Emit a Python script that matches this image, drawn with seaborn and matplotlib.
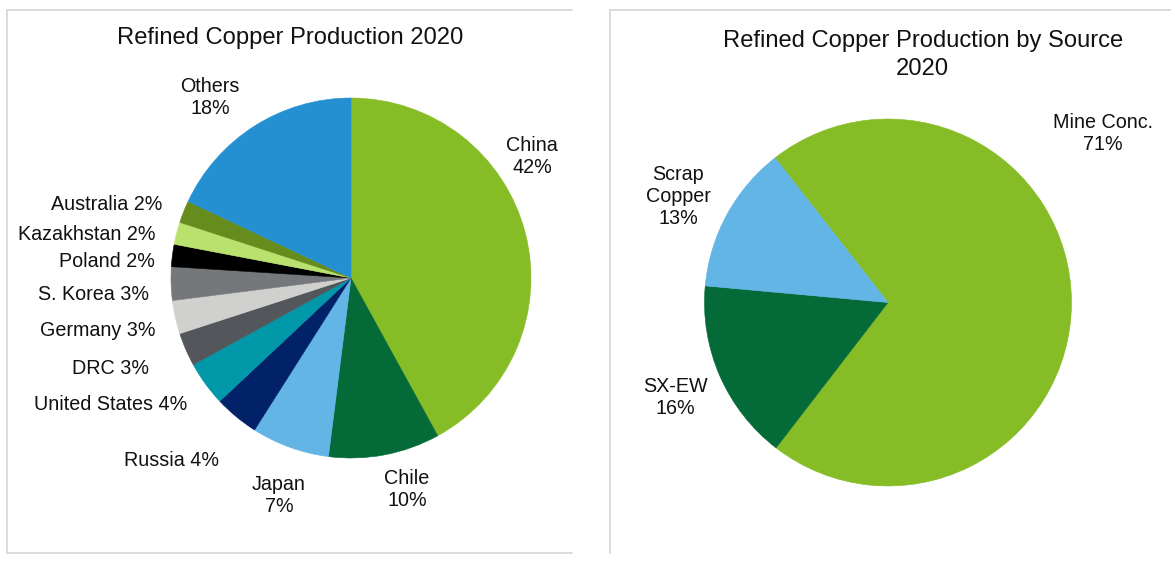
import matplotlib
matplotlib.use("Agg")
import matplotlib.pyplot as plt
from matplotlib.lines import Line2D
import seaborn as sns

# Refined copper production by country, 2020 (share of world total, %)
countries = ["China", "Chile", "Japan", "Russia", "United States", "DRC",
             "Germany", "S. Korea", "Poland", "Kazakhstan", "Australia", "Others"]
country_share = [42, 10, 7, 4, 4, 3, 3, 3, 2, 2, 2, 18]
country_colors = ["#86BC25", "#046A38", "#62B5E5", "#012169", "#0097A9", "#53565A",
                  "#D0D0CE", "#75787B", "#000000", "#B9E16E", "#668C1E", "#2490D2"]

# Refined copper production by source, 2020 (%)
sources = ["Mine Conc.", "SX-EW", "Scrap\nCopper"]
source_share = [71, 16, 13]
source_colors = ["#86BC25", "#046A38", "#62B5E5"]

W, H = 1175, 568
sns.set_theme(style="white")
plt.rcParams["font.family"] = ["Liberation Sans", "DejaVu Sans"]

fig = plt.figure(figsize=(W / 100, H / 100), dpi=100)
fig.patch.set_facecolor("white")


def fx(px):
    return px / W


def fy(py):
    return 1 - py / H


def pie_axes(cx, cy, r):
    return fig.add_axes([fx(cx - r), fy(cy + r), 2 * r / W, 2 * r / H])


def finish_pie(ax, wedges):
    # pie() pads its limits; make the unit circle fill the axes box
    ax.set_xlim(-1, 1)
    ax.set_ylim(-1, 1)
    ax.axis("off")
    # paint each wedge outline in its own fill colour so no seams show
    for w in wedges:
        w.set_edgecolor(w.get_facecolor())
        w.set_linewidth(0.4)


LABEL_PT = 14.25
TITLE_PT = 17.1

# Left panel: by country
ax1 = pie_axes(351, 278, 180)
wedges1, _ = ax1.pie(country_share, colors=sns.color_palette(country_colors),
                     startangle=90, counterclock=False, radius=1)
finish_pie(ax1, wedges1)

two_line = {"China", "Chile", "Japan", "Others"}
country_label_pos = [(532, 154), (407, 488), (279, 493), (172, 459), (111, 402),
                     (111, 367), (97.5, 328), (94, 293), (107, 260), (87, 232),
                     (107, 202), (210, 96)]
for name, val, (px, py) in zip(countries, country_share, country_label_pos):
    sep = "\n" if name in two_line else " "
    fig.text(fx(px), fy(py + 2), f"{name}{sep}{val}%", ha="center", va="center",
             fontsize=LABEL_PT, color="#111111", linespacing=1.2)

fig.text(fx(290), fy(38), "Refined Copper Production 2020", ha="center", va="center",
         fontsize=TITLE_PT, color="#111111")

# Right panel: by source
ax2 = pie_axes(888, 302.5, 183.5)
wedges2, _ = ax2.pie(source_share, colors=sns.color_palette(source_colors),
                     startangle=128, counterclock=False, radius=1)
finish_pie(ax2, wedges2)

source_label_pos = [(1103, 131), (675, 395), (678, 195)]
for name, val, (px, py) in zip(sources, source_share, source_label_pos):
    fig.text(fx(px), fy(py + 2), f"{name}\n{val}%", ha="center", va="center",
             fontsize=LABEL_PT, color="#111111", linespacing=1.2)

fig.text(fx(922.6), fy(55), "Refined Copper Production by Source\n2020", ha="center",
         va="center", fontsize=TITLE_PT, color="#111111", linespacing=1.32)

# Panel frames
frame = dict(color="#D9D9D9", linewidth=1.3, transform=fig.transFigure)
fig.add_artist(Line2D([fx(7), fx(7)], [fy(10), fy(553)], **frame))
fig.add_artist(Line2D([fx(7), fx(572)], [fy(10), fy(10)], **frame))
fig.add_artist(Line2D([fx(7), fx(572)], [fy(553), fy(553)], **frame))
fig.add_artist(Line2D([fx(609.5), fx(609.5)], [fy(10), fy(553)], **frame))
fig.add_artist(Line2D([fx(609.5), fx(1170)], [fy(10), fy(10)], **frame))

fig.savefig("out.png", dpi=100, facecolor="white")
